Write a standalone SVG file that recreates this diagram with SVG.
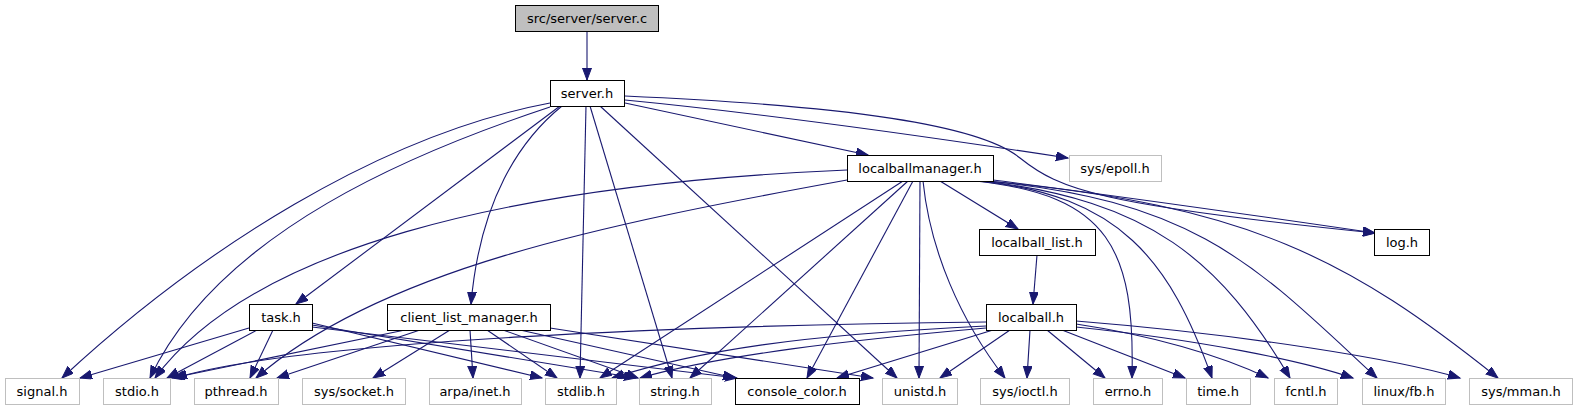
<svg xmlns="http://www.w3.org/2000/svg" width="1577" height="411" viewBox="0 0 1577 411">
<defs>
<style>
.n rect{fill:#fff;stroke:#000;stroke-width:1}
.x rect{fill:#fff;stroke:#bfbfbf;stroke-width:1}
.r rect{fill:#bfbfbf;stroke:#000;stroke-width:1}
text{font-family:"DejaVu Sans","Liberation Sans",sans-serif;font-size:13px;fill:#000;text-anchor:middle}
#edges path{fill:none;stroke:#191970;stroke-width:1.1;marker-end:url(#a)}
</style>
<marker id="a" markerWidth="14" markerHeight="10" refX="12" refY="4.5" orient="auto" markerUnits="userSpaceOnUse">
<path d="M0,0 L12,4.5 L0,9 z" fill="#191970" stroke="#191970" stroke-width="1"/>
</marker>
</defs>
<rect width="1577" height="411" fill="#fff"/>
<g id="edges">
<path d="M587,31 L587,80"/>
<path d="M550,103 C380,135 200,250 62,378"/>
<path d="M550,107 C420,150 220,230 150,378"/>
<path d="M560,106 L296,304"/>
<path d="M562,106 C520,140 480,200 471,304"/>
<path d="M586,106 L580,378"/>
<path d="M590,106 L672,378"/>
<path d="M600,106 L897,378"/>
<path d="M625,103 L868,155"/>
<path d="M625,100 C780,115 950,140 1068,158"/>
<path d="M625,96 C850,106 980,125 1020,158 C1060,190 1100,205 1375,233"/>
<path d="M993,180 C1150,200 1300,222 1375,233"/>
<path d="M847,170 C500,185 250,250 155,378"/>
<path d="M847,180 C600,225 380,270 256,378"/>
<path d="M903,181 L600,378"/>
<path d="M908,181 L690,378"/>
<path d="M913,181 L807,378"/>
<path d="M920,181 L919,378"/>
<path d="M923,181 C930,250 960,320 1005,378"/>
<path d="M940,181 L1018,229"/>
<path d="M975,181 C1110,195 1135,250 1132,378"/>
<path d="M978,181 C1120,195 1170,260 1212,378"/>
<path d="M982,181 C1150,200 1220,260 1290,378"/>
<path d="M985,181 C1200,200 1260,270 1377,378"/>
<path d="M988,181 C1250,205 1350,260 1498,378"/>
<path d="M1037,255 L1033,304"/>
<path d="M986,322 C700,325 300,340 175,378"/>
<path d="M986,326 C800,335 700,350 612,378"/>
<path d="M986,328 C850,340 720,355 640,378"/>
<path d="M993,330 L837,378"/>
<path d="M1010,330 L940,378"/>
<path d="M1030,330 L1027,378"/>
<path d="M1047,330 L1105,378"/>
<path d="M1062,330 L1185,378"/>
<path d="M1076,324 C1150,335 1220,355 1268,378"/>
<path d="M1076,327 C1200,340 1300,360 1353,378"/>
<path d="M1076,321 C1250,335 1400,360 1460,378"/>
<path d="M249,328 L80,378"/>
<path d="M257,330 L167,378"/>
<path d="M273,330 L250,378"/>
<path d="M312,323 L542,378"/>
<path d="M312,325 L636,378"/>
<path d="M312,327 L737,378"/>
<path d="M405,330 L172,378"/>
<path d="M420,330 L277,378"/>
<path d="M450,330 L373,378"/>
<path d="M470,330 L473,378"/>
<path d="M487,330 L557,378"/>
<path d="M503,330 L638,378"/>
<path d="M520,330 L735,378"/>
<path d="M550,328 L873,378"/>
</g>
<g id="node_server_c" class="r"><rect x="515.5" y="5.5" width="143" height="26"/><text x="587" y="23">src/server/server.c</text></g>
<g id="node_server_h" class="n"><rect x="550.5" y="80.5" width="74" height="26"/><text x="587" y="98">server.h</text></g>
<g id="node_localballmanager_h" class="n"><rect x="847.5" y="155.5" width="146" height="26"/><text x="920" y="173">localballmanager.h</text></g>
<g id="node_sys_epoll_h" class="x"><rect x="1069.5" y="155.5" width="92" height="26"/><text x="1115" y="173">sys/epoll.h</text></g>
<g id="node_localball_list_h" class="n"><rect x="979.5" y="229.5" width="116" height="26"/><text x="1037" y="247">localball_list.h</text></g>
<g id="node_log_h" class="n"><rect x="1374.5" y="229.5" width="55" height="26"/><text x="1402" y="247">log.h</text></g>
<g id="node_task_h" class="n"><rect x="249.5" y="304.5" width="63" height="26"/><text x="281" y="322">task.h</text></g>
<g id="node_client_list_manager_h" class="n"><rect x="387.5" y="304.5" width="163" height="26"/><text x="469" y="322">client_list_manager.h</text></g>
<g id="node_localball_h" class="n"><rect x="986.5" y="304.5" width="90" height="26"/><text x="1031" y="322">localball.h</text></g>
<g id="node_signal_h" class="x"><rect x="5.5" y="378.5" width="74" height="26"/><text x="42" y="396">signal.h</text></g>
<g id="node_stdio_h" class="x"><rect x="103.5" y="378.5" width="67" height="26"/><text x="137" y="396">stdio.h</text></g>
<g id="node_pthread_h" class="x"><rect x="194.5" y="378.5" width="84" height="26"/><text x="236" y="396">pthread.h</text></g>
<g id="node_sys_socket_h" class="x"><rect x="302.5" y="378.5" width="103" height="26"/><text x="354" y="396">sys/socket.h</text></g>
<g id="node_arpa_inet_h" class="x"><rect x="429.5" y="378.5" width="92" height="26"/><text x="475" y="396">arpa/inet.h</text></g>
<g id="node_stdlib_h" class="x"><rect x="545.5" y="378.5" width="71" height="26"/><text x="581" y="396">stdlib.h</text></g>
<g id="node_string_h" class="x"><rect x="639.5" y="378.5" width="72" height="26"/><text x="675" y="396">string.h</text></g>
<g id="node_console_color_h" class="n"><rect x="735.5" y="378.5" width="124" height="26"/><text x="797" y="396">console_color.h</text></g>
<g id="node_unistd_h" class="x"><rect x="882.5" y="378.5" width="75" height="26"/><text x="920" y="396">unistd.h</text></g>
<g id="node_sys_ioctl_h" class="x"><rect x="980.5" y="378.5" width="89" height="26"/><text x="1025" y="396">sys/ioctl.h</text></g>
<g id="node_errno_h" class="x"><rect x="1093.5" y="378.5" width="69" height="26"/><text x="1128" y="396">errno.h</text></g>
<g id="node_time_h" class="x"><rect x="1186.5" y="378.5" width="64" height="26"/><text x="1218" y="396">time.h</text></g>
<g id="node_fcntl_h" class="x"><rect x="1274.5" y="378.5" width="63" height="26"/><text x="1306" y="396">fcntl.h</text></g>
<g id="node_linux_fb_h" class="x"><rect x="1362.5" y="378.5" width="83" height="26"/><text x="1404" y="396">linux/fb.h</text></g>
<g id="node_sys_mman_h" class="x"><rect x="1469.5" y="378.5" width="103" height="26"/><text x="1521" y="396">sys/mman.h</text></g>
</svg>
